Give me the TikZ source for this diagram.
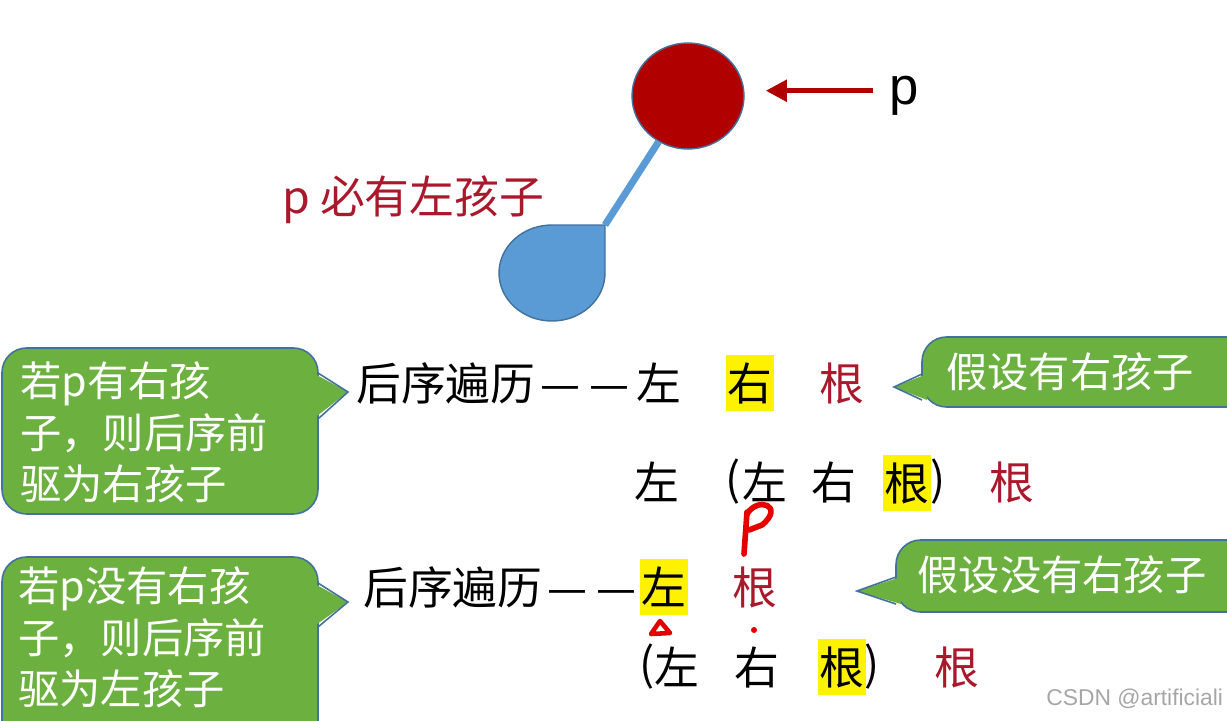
\documentclass[tikz,border=0pt]{standalone}
\usepackage{fontspec}
\setmainfont{Noto Sans CJK SC}
\newfontfamily\arialfont{Liberation Sans}
\usetikzlibrary{shapes.geometric,arrows.meta}
\definecolor{rootred}{RGB}{176,0,0}
\definecolor{leafblue}{RGB}{91,155,213}
\definecolor{edgeblue}{RGB}{65,113,156}
\definecolor{bubblegreen}{RGB}{108,176,64}
\definecolor{labelred}{RGB}{170,24,44}
\begin{document}
\begin{tikzpicture}[
  x=0.02cm, y=-0.02cm,
  big/.style={font=\fontsize{25.5}{30}\selectfont, inner sep=0pt},
  redtxt/.style={big, text=labelred},
  hl/.style={big, fill=yellow, minimum width=27pt, minimum height=32pt},
  rootnode/.style={ellipse, draw=edgeblue, line width=0.8pt, fill=rootred,
    minimum width=2.24cm, minimum height=2.12cm, inner sep=0pt},
  branch/.style={draw=leafblue, line width=4pt},
  leaf/.style={draw=edgeblue, line width=0.8pt, fill=leafblue},
  ptr/.style={draw=rootred, line width=2.8pt, -{Triangle[length=12pt,width=12pt]}},
  bubble/.style={draw=edgeblue, line width=0.9pt, fill=bubblegreen, rounded corners=14pt},
  bubbletip/.style={draw=edgeblue, line width=0.9pt},
  saytxt/.style={font=\fontsize{23.5}{29.5}\selectfont, text=white, inner sep=0pt, align=left},
  ink/.style={draw=red!90!black, line width=3.2pt, line cap=round, line join=round}
]
\useasboundingbox (0,0) rectangle (1227,720);
\clip (0,0) rectangle (1227,720);

\node[rootnode] (root) at (688,96) {};
\coordinate (leaf) at (605,225);
\draw[leaf] (leaf) -- (552,225) arc[start angle=-90, end angle=-360, x radius=53, y radius=48] -- cycle;
\draw[branch] (root) -- (leaf);
\node[font=\arialfont\fontsize{30}{34}\selectfont, inner sep=0pt, anchor=west] (plabel) at (889,96) {p};
\draw[ptr, shorten <=9pt] ([yshift=3pt]plabel.west) -- ([yshift=3pt,xshift=12pt]root.east);
\node[redtxt, anchor=west] (must) at (282,200) {p 必有左孩子};

\draw[bubble] (2,348) rectangle (318,514);
\fill[bubblegreen] (313,373) -- (348,392) -- (313,419) -- cycle;
\draw[bubbletip] (318,373) -- (348,392) -- (318,419);
\node[saytxt, anchor=north west] (say1) at (20,361) {若p有右孩\\子，则后序前\\驱为右孩子};

\draw[bubble] (2,557) rectangle (318,760);
\fill[bubblegreen] (313,583) -- (348,602) -- (313,627) -- cycle;
\draw[bubbletip] (318,583) -- (348,602) -- (318,627);
\node[saytxt, anchor=north west] (say2) at (18,566) {若p没有右孩\\子，则后序前\\驱为左孩子};

\draw[bubble] (922,337) rectangle (1270,407);
\fill[bubblegreen] (927,374) -- (894,387) -- (927,400) -- cycle;
\draw[bubbletip] (922,374) -- (894,387) -- (922,400);
\node[saytxt] (say3) at (1070,372) {假设有右孩子};

\draw[bubble] (896,540) rectangle (1270,612);
\fill[bubblegreen] (901,577) -- (857,591) -- (901,604) -- cycle;
\draw[bubbletip] (896,577) -- (857,591) -- (896,604);
\node[saytxt] (say4) at (1062,575) {假设没有右孩子};

\node[big, anchor=west] (post1) at (356,383) {后序遍历\kern3pt—\kern5pt—\kern4pt左};
\node[hl] (r1b) at (750,383) {右};
\node[redtxt] (r1c) at (842,383) {根};

\node[big] (r2a) at (657,482) {左};
\node[big] (r2b) at (733,482) {(};
\node[big] (r2c) at (765,482) {左};
\node[big] (r2d) at (834,482) {右};
\node[hl] (r2e) at (907,483) {根};
\node[big] (r2f) at (938,482) {)};
\node[redtxt] (r2g) at (1012,482) {根};

\node[big, anchor=west] (post2) at (363,587) {后序遍历\kern3pt—\kern5pt—};
\node[hl] (r3a) at (664,587) {左};
\node[redtxt] (r3b) at (755,587) {根};

\node[big] (r4a) at (647,667) {(};
\node[big] (r4b) at (677,667) {左};
\node[big] (r4c) at (757,667) {右};
\node[hl] (r4d) at (842,667) {根};
\node[big] (r4e) at (872,667) {)};
\node[redtxt] (r4f) at (957,667) {根};

\draw[ink] (747,512) -- (744,554);
\draw[ink] (747,514) .. controls (758,496) and (785,506) .. (762,525) -- (749,530);
\draw[ink, line width=2.6pt] (651,634) -- (660,621) -- (670,633) -- cycle;
\fill[red!90!black] (754,630) circle (3);

\node[font=\arialfont\fontsize{13}{15}\selectfont, text=black!35, anchor=west, inner sep=0pt] (mark) at (1046,699) {CSDN @artificiali};
\end{tikzpicture}
\end{document}
